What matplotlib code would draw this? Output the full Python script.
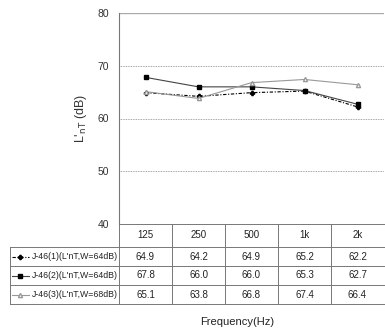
import matplotlib
matplotlib.use("Agg")
import matplotlib.pyplot as plt
from matplotlib.lines import Line2D

# data
freqs = ["125", "250", "500", "1k", "2k"]
s1 = [64.9, 64.2, 64.9, 65.2, 62.2]
s2 = [67.8, 66.0, 66.0, 65.3, 62.7]
s3 = [65.1, 63.8, 66.8, 67.4, 66.4]
labels = ["J-46(1)(L'nT,W=64dB)", "J-46(2)(L'nT,W=64dB)", "J-46(3)(L'nT,W=68dB)"]
series = [s1, s2, s3]
yticks = [40, 50, 60, 70, 80]

plt.rcParams['font.family'] = ['Liberation Sans', 'DejaVu Sans']

W, H = 385, 334
fig = plt.figure(figsize=(W / 100, H / 100), dpi=100)
ax = fig.add_axes([119 / W, 1 - 224 / H, 265 / W, 211 / H])

styles = [
    dict(color="black", linestyle=(0, (3, 1.5, 1, 1.5)), linewidth=0.8, marker="P", markersize=3),
    dict(color="#444444", linestyle="-", linewidth=0.8, marker="s", markersize=3,
         markerfacecolor="black", markeredgecolor="black"),
    dict(color="#999999", linestyle="-", linewidth=0.8, marker="^", markersize=3,
         markerfacecolor="white", markeredgecolor="#999999"),
]

x = list(range(len(freqs)))
for vals, st in zip(series, styles):
    ax.plot(x, vals, **st)

ax.set_xlim(-0.5, len(freqs) - 0.5)
ax.set_ylim(40, 80)
ax.set_yticks(yticks)
ax.set_xticks([])
ax.tick_params(axis="y", length=0, labelsize=7.5, pad=7, colors="#333333")
for g in [50, 60, 70]:
    ax.axhline(g, color="#888888", linestyle=(0, (1, 1)), linewidth=0.6)
ax.axhline(80, color="#aaaaaa", linewidth=1.0)
for sp in ["top", "right", "bottom"]:
    ax.spines[sp].set_visible(False)
ax.spines["left"].set_color("#777777")
ax.spines["left"].set_linewidth(0.8)

ax.set_ylabel(r"L'$_{\mathrm{nT}}$ (dB)", fontsize=9, color="#333333", labelpad=6)

# table (in axes coordinates)
tr = ax.transAxes
px = 1 / 211  # one pixel in axes-y
header_h = 23 * px
row_h = 19 * px
left = (10 - 119) / 265
y_head_bot = -header_h
row_bots = [y_head_bot - row_h * (i + 1) for i in range(3)]
lc = "#777777"
lw = 0.7

def hline(x0, x1, y):
    fig.add_artist(Line2D([x0, x1], [y, y], transform=tr, color=lc, linewidth=lw, clip_on=False))

def vline(xx, y0, y1):
    fig.add_artist(Line2D([xx, xx], [y0, y1], transform=tr, color=lc, linewidth=lw, clip_on=False))

hline(0, 1, 0)
hline(left, 1, y_head_bot)
for yb in row_bots:
    hline(left, 1, yb)
vline(0, 0, row_bots[-1])
vline(left, y_head_bot, row_bots[-1])
for i in range(1, len(freqs)):
    vline(i / len(freqs), 0, row_bots[-1])

ncol = len(freqs)
for i, f in enumerate(freqs):
    ax.text((i + 0.5) / ncol, -header_h / 2, f, transform=tr, ha="center", va="center",
            fontsize=7, color="#222222")
for r, (vals, st, lab) in enumerate(zip(series, styles, labels)):
    yc = y_head_bot - row_h * (r + 0.5)
    for i, v in enumerate(vals):
        ax.text((i + 0.5) / ncol, yc, f"{v:.1f}", transform=tr, ha="center", va="center",
                fontsize=7, color="#222222")
    sx0 = left + 2 / 265
    sx1 = left + 19 / 265
    st2 = dict(st)
    fig.add_artist(Line2D([sx0, sx1], [yc, yc], transform=tr, clip_on=False,
                          color=st2.pop("color"), linestyle=st2.pop("linestyle"),
                          linewidth=st2.pop("linewidth")))
    fig.add_artist(Line2D([(sx0 + sx1) / 2], [yc], transform=tr, clip_on=False,
                          color=st["color"], linestyle="none", **st2))
    ax.text(left + 22 / 265, yc, lab, transform=tr, ha="left", va="center",
            fontsize=6.3, color="#222222")

fig.text(237 / W, 1 - 322 / H, "Frequency(Hz)", ha="center", va="center", fontsize=8, color="#222222")

fig.savefig("out.png", dpi=100, facecolor="white")
